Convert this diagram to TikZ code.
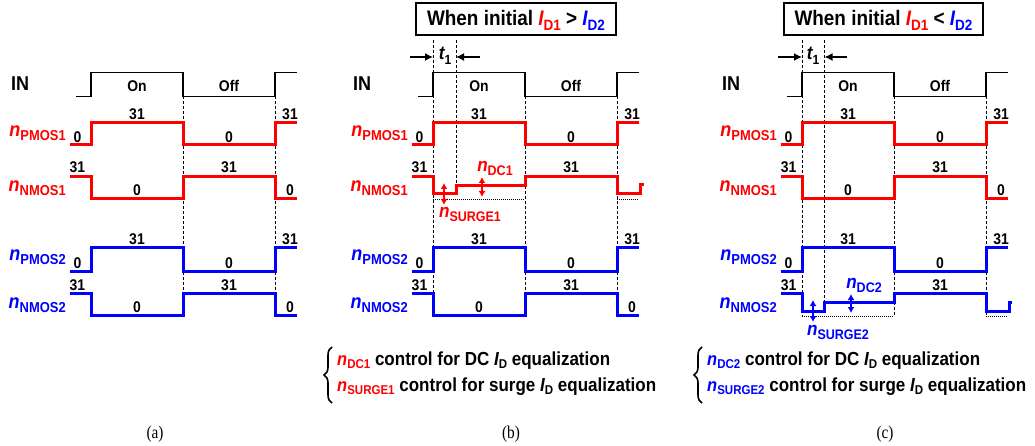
\documentclass[tikz,border=0pt]{standalone}
\usepackage{fontspec}
\setmainfont{Liberation Sans}[FakeStretch=0.9]
\newfontfamily\seriffont{Liberation Serif}[FakeStretch=0.85]
\usetikzlibrary{arrows.meta,decorations.pathreplacing}
\definecolor{wred}{RGB}{255,0,0}
\definecolor{wblue}{RGB}{0,0,255}
\newcommand{\fsz}[1]{\fontsize{#1}{#1}\selectfont}
\newcommand{\nlab}[1]{{\fsz{20}\itshape n}\raisebox{-4pt}{\fsz{14.4}#1}}
\newcommand{\nmid}[1]{{\fsz{19}\itshape n}\raisebox{-4pt}{\fsz{13.9}#1}}
\newcommand{\nleg}[1]{{\fsz{18.3}\itshape n}\raisebox{-3pt}{\fsz{12.8}#1}}
\newcommand{\IDleg}{{\itshape I}\raisebox{-3pt}{\fsz{12.8}D}}
\newcommand{\IDbox}[1]{{\itshape I}\raisebox{-4.5pt}{\fsz{15}D#1}}
\newcommand{\tone}{{\fsz{19}\itshape t}\raisebox{-5pt}{\fsz{13.3}1}}
\tikzset{
 wave/.style={line width=3pt},
 inwave/.style={line width=1.6pt},
 vdash/.style={line width=0.8pt, dash pattern=on 3pt off 2pt},
 dotl/.style={line width=0.8pt, dash pattern=on 1pt off 1pt},
 num/.style={anchor=base, font=\fsz{15.5}\bfseries},
 lab/.style={anchor=base east},
 tarrow/.style={line width=1.5pt, -{Latex[length=8pt,width=8pt]}},
 darrow/.style={line width=1.4pt, {Latex[length=6pt,width=7pt]}-{Latex[length=6pt,width=7pt]}},
 boxst/.style={draw, line width=1.5pt, minimum height=32pt},
}
% PMOS-type waveform: color, high, low
\newcommand{\pwave}[3]{\draw[wave,#1] (70,#3)--(91,#3)--(91,#2)--(183,#2)--(183,#3)--(275,#3)--(275,#2)--(297,#2);}
% NMOS-type waveform: color, high, low
\newcommand{\nwave}[3]{\draw[wave,#1] (70,#2)--(91,#2)--(91,#3)--(183,#3)--(183,#2)--(275,#2)--(275,#3)--(297,#3);}
% PMOS numbers: name, hi baseline, lo baseline
\newcommand{\pnums}[3]{%
 \node[num] (#1a) at (77.5,#3) {0};
 \node[num] (#1b) at (137,#2) {31};
 \node[num] (#1c) at (229,#3) {0};
 \node[num] (#1d) at (290,#2) {31};}
% NMOS numbers (full)
\newcommand{\nnums}[3]{%
 \node[num] (#1a) at (77.5,#2) {31};
 \node[num] (#1b) at (137,#3) {0};
 \node[num] (#1c) at (229,#2) {31};
 \node[num] (#1d) at (290,#3) {0};}
% NMOS numbers (partial)
\newcommand{\nnumsp}[2]{%
 \node[num] (#1a) at (77.5,#2) {31};
 \node[num] (#1c) at (229,#2) {31};}
\newcommand{\common}[1]{%
 \draw[vdash] (183,96.5)--(183,316);
 \draw[vdash] (275,96.5)--(275,316);
 \node[anchor=base west, font=\fsz{20}\bfseries] (in#1) at (11,90.5) {IN};
 \draw[inwave] (76,96.5)--(91,96.5)--(91,72.5)--(183,72.5)--(183,96.5)--(275,96.5)--(275,72.5)--(297,72.5);
 \node[num] (on#1) at (137,91.5) {On};
 \node[num] (off#1) at (229,91.5) {Off};
 \node[lab, text=wred] (lp1#1) at (66,136.7) {\nlab{PMOS1}};
 \node[lab, text=wred] (ln1#1) at (66,191.7) {\nlab{NMOS1}};
 \node[lab, text=wblue] (lp2#1) at (66,260.5) {\nlab{PMOS2}};
 \node[lab, text=wblue] (ln2#1) at (66,308) {\nlab{NMOS2}};
 \pwave{wred}{123}{145}
 \pwave{wblue}{247.5}{271}
 \pnums{p1#1}{120}{142.5}
 \pnums{p2#1}{244}{268}}
\begin{document}
\begin{tikzpicture}[x=1pt,y=-1pt, every node/.style={inner sep=0pt, font=\bfseries}]
\fill[white] (0,0) rectangle (1035,446);
\useasboundingbox (0,0) rectangle (1035,446);

% ---------- panel (a)
\begin{scope}
 \common{A}
 \nwave{wred}{176.5}{198.5}
 \nwave{wblue}{293}{315.5}
 \nnums{n1A}{173}{195.5}
 \nnums{n2A}{290}{312.5}
\end{scope}

% ---------- panel (b)
\begin{scope}[xshift=342pt]
 \draw[vdash] (91,40)--(91,316);
 \draw[vdash] (114,40)--(114,186);
 \common{B}
 \draw[dotl] (91,199)--(183,199);
 \draw[dotl] (275,199)--(297,199);
 \draw[wave,wred] (70,176.5)--(91,176.5)--(91,194)--(114,194)--(114,186)--(183,186)--(183,176.5)--(275,176.5)--(275,194)--(298.5,194)--(298.5,185)--(302,185);
 \nwave{wblue}{293}{315.5}
 \nnumsp{n1B}{173}
 \nnums{n2B}{290}{312.5}
 \coordinate (tlB) at (68,57); \coordinate (tlBe) at (91,57);
 \coordinate (trB) at (138,57); \coordinate (trBe) at (114,57);
 \draw[tarrow] (tlB) -- (tlBe);
 \draw[tarrow] (trB) -- (trBe);
 \node[anchor=base] (t1B) at (103,60) {\tone};
 \coordinate (sB1) at (102,183); \coordinate (sB2) at (102,205);
 \coordinate (dB1) at (140,177); \coordinate (dB2) at (140,197);
 \draw[darrow,wred] (sB1) -- (sB2);
 \draw[darrow,wred] (dB1) -- (dB2);
 \node[anchor=base, text=wred] (ndcB) at (153,172) {\nmid{DC1}};
 \node[anchor=base, text=wred] (nsB) at (128,218) {\nmid{SURGE1}};
 \node[boxst, minimum width=200pt] (boxB) at (174,19) {};
 \node[anchor=base, font=\fsz{21}\bfseries] (titB) at (174,26) {When initial \textcolor{wred}{\IDbox{1}} > \textcolor{wblue}{\IDbox{2}}};
\end{scope}

% ---------- panel (c)
\begin{scope}[xshift=711pt]
 \draw[vdash] (91,40)--(91,316);
 \draw[vdash] (113.5,40)--(113.5,303);
 \common{C}
 \draw[dotl] (91,316)--(183,316);
 \draw[dotl] (275,316)--(297,316);
 \nwave{wred}{176.5}{198.5}
 \draw[wave,wblue] (70,293)--(91,293)--(91,311.5)--(113.5,311.5)--(113.5,302.7)--(183,302.7)--(183,293)--(275,293)--(275,311.5)--(298.5,311.5)--(298.5,302.5)--(301,302.5);
 \nnums{n1C}{173}{195.5}
 \nnumsp{n2C}{290}
 \coordinate (tlC) at (67,57); \coordinate (tlCe) at (91,57);
 \coordinate (trC) at (136,57); \coordinate (trCe) at (113.5,57);
 \draw[tarrow] (tlC) -- (tlCe);
 \draw[tarrow] (trC) -- (trCe);
 \node[anchor=base] (t1C) at (102,60) {\tone};
 \coordinate (sC1) at (102,300); \coordinate (sC2) at (102,322);
 \coordinate (dC1) at (140,294); \coordinate (dC2) at (140,313);
 \draw[darrow,wblue] (sC1) -- (sC2);
 \draw[darrow,wblue] (dC1) -- (dC2);
 \node[anchor=base, text=wblue] (ndcC) at (153,288) {\nmid{DC2}};
 \node[anchor=base, text=wblue] (nsC) at (127,335) {\nmid{SURGE2}};
 \node[boxst, minimum width=199pt] (boxC) at (172.5,19) {};
 \node[anchor=base, font=\fsz{21}\bfseries] (titC) at (172.5,26) {When initial \textcolor{wred}{\IDbox{1}} < \textcolor{wblue}{\IDbox{2}}};
\end{scope}

% ---------- legends
\coordinate (brB1) at (332,403); \coordinate (brB2) at (332,347);
\draw[line width=1.6pt, decorate, decoration={brace, amplitude=8pt}] (brB1) -- (brB2);
\node[anchor=base west, font=\fsz{18.9}\bfseries] (legB1) at (337,365) {{\color{wred}\nleg{DC1}} control for DC \IDleg{} equalization};
\node[anchor=base west, font=\fsz{18.9}\bfseries] (legB2) at (337,391) {{\color{wred}\nleg{SURGE1}} control for surge \IDleg{} equalization};

\coordinate (brC1) at (702,403); \coordinate (brC2) at (702,347);
\draw[line width=1.6pt, decorate, decoration={brace, amplitude=8pt}] (brC1) -- (brC2);
\node[anchor=base west, font=\fsz{18.9}\bfseries] (legC1) at (707,365) {{\color{wblue}\nleg{DC2}} control for DC \IDleg{} equalization};
\node[anchor=base west, font=\fsz{18.9}\bfseries] (legC2) at (707,391) {{\color{wblue}\nleg{SURGE2}} control for surge \IDleg{} equalization};

% ---------- panel captions
\node[anchor=base, font=\seriffont\fsz{18}] (capA) at (155,438) {(a)};
\node[anchor=base, font=\seriffont\fsz{18}] (capB) at (511,438) {(b)};
\node[anchor=base, font=\seriffont\fsz{18}] (capC) at (885,438) {(c)};
\end{tikzpicture}
\end{document}
